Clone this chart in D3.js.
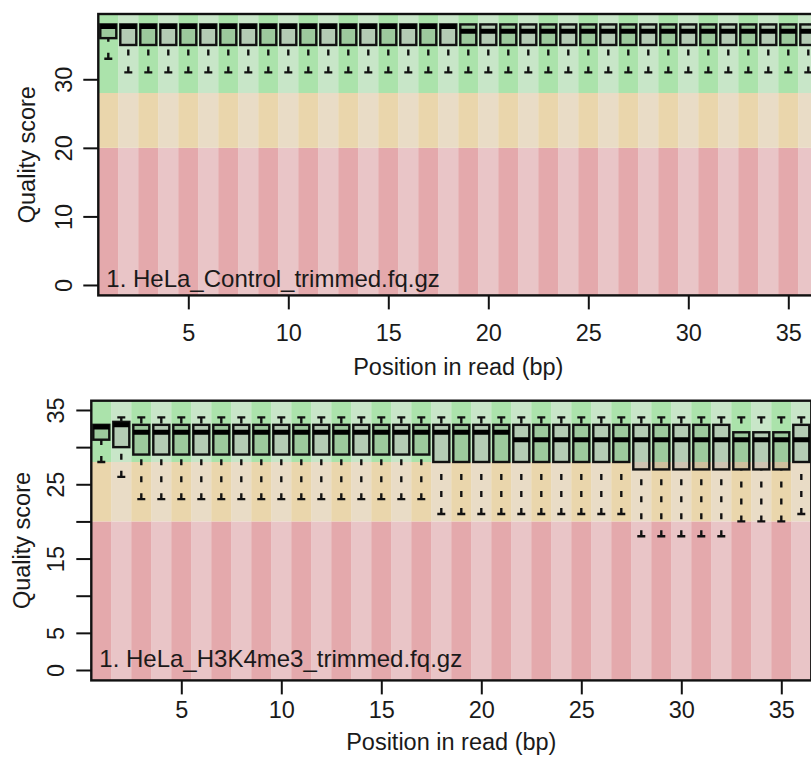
<!DOCTYPE html>
<html lang="en">
<head>
<meta charset="UTF-8">
<title>Quality score by position</title>
<script src="https://cdn.jsdelivr.net/npm/d3@7/dist/d3.min.js"></script>
<style>
    body{margin:0;background:#fff;}
    svg{display:block;font-family:"Liberation Sans",Arial,sans-serif;}
</style>
</head>
<body>
<svg width="811" height="765"></svg>
<script>
// read positions (bp)
var positions=[1,2,3,4,5,6,7,8,9,10,11,12,13,14,15,16,17,18,19,20,21,22,23,24,25,26,27,28,29,30,31,32,33,34,35,36];
var xTicks=[5,10,15,20,25,30,35];

// panel 1: HeLa_Control
var ctrlLabel="1. HeLa_Control_trimmed.fq.gz";
var ctrlYTicks=[0,10,20,30];
var ctrlLow =[33,31,31,31,31,31,31,31,31,31,31,31,31,31,31,31,31,31,31,31,31,31,31,31,31,31,31,31,31,31,31,31,31,31,31,31];
var ctrlQ1  =[36,35,35,35,35,35,35,35,35,35,35,35,35,35,35,35,35,35,35,35,35,35,35,35,35,35,35,35,35,35,35,35,35,35,35,35];
var ctrlMed =[37.7,37.7,37.7,37.7,37.7,37.7,37.7,37.7,37.7,37.7,37.7,37.7,37.7,37.7,37.7,37.7,37.7,37.7,37,37,37,37,37,37,37,37,37,37,37,37,37,37,37,37,37,37];
var ctrlQ3  =[38,38,38,38,38,38,38,38,38,38,38,38,38,38,38,38,38,38,38,38,38,38,38,38,38,38,38,38,38,38,38,38,38,38,38,38];
var ctrlHigh=[38,38,38,38,38,38,38,38,38,38,38,38,38,38,38,38,38,38,38,38,38,38,38,38,38,38,38,38,38,38,38,38,38,38,38,38];

// panel 2: HeLa_H3K4me3
var k4Label="1. HeLa_H3K4me3_trimmed.fq.gz";
var k4YTicks=[0,5,10,15,20,25,30,35];
var k4YLabels=[0,5,15,25,35];
var k4Low =[28,26,23,23,23,23,23,23,23,23,23,23,23,23,23,23,23,21,21,21,21,21,21,21,21,21,21,18,18,18,18,18,20,20,20,21];
var k4Q1  =[31,30,29,29,29,29,29,29,29,29,29,29,29,29,29,29,29,28,28,28,28,28,28,28,28,28,28,27,27,27,27,27,27,27,27,28];
var k4Med =[32.7,33,32,32,32,32,32,32,32,32,32,32,32,32,32,32,32,32,32,32,32,31,31,31,31,31,31,31,31,31,31,31,31,31,31,31];
var k4Q3  =[33,33.4,33,33,33,33,33,33,33,33,33,33,33,33,33,33,33,33,33,33,33,33,33,33,33,33,33,33,33,33,33,33,32,32,32,33];
var k4High=[33,34,34,34,34,34,34,34,34,34,34,34,34,34,34,34,34,34,34,34,34,34,34,34,34,34,34,34,34,34,34,34,34,34,34,34];

// quality zones: red < 20, orange 20-28, green >= 28
var zones=[
    {lo:-100,hi:20,cols:["#e4a9ac","#e9c5c7"]},
    {lo:20,hi:28,cols:["#ead6ac","#e9dcc6"]},
    {lo:28,hi:100,cols:["#abe3ab","#c8e6c8"]}
];

var svg=d3.select('svg');
var fontSize=23.5;
var lw=2.4;

function drawPanel(p){
    var x=d3.scaleLinear()
        .domain([0.5,positions.length+0.5])
        .range([p.left,p.left+positions.length*20]);
    var y=d3.scaleLinear()
        .domain(p.yDomain)
        .range([p.bottom,p.top]);

    var g=svg.append('g');
    var clipId='clip'+p.id;
    g.append('clipPath').attr('id',clipId)
        .append('rect')
        .attr('x',x.range()[0]).attr('y',p.top)
        .attr('width',x.range()[1]-x.range()[0]).attr('height',p.bottom-p.top);

    var plot=g.append('g').attr('clip-path','url(#'+clipId+')');

    // striped background
    zones.forEach(function(z){
        plot.selectAll(null)
            .data(positions)
            .enter().append('rect')
            .attr('x',d=>x(d-0.5))
            .attr('width',d=>x(d+0.5)-x(d-0.5)+0.3)
            .attr('y',y(Math.min(z.hi,p.yDomain[1])))
            .attr('height',y(Math.max(z.lo,p.yDomain[0]))-y(Math.min(z.hi,p.yDomain[1])))
            .attr('fill',d=>z.cols[(d+1)%2]);
    });

    var rows=positions.map(function(pos,i){
        return {pos:pos,low:p.low[i],q1:p.q1[i],med:p.med[i],q3:p.q3[i],high:p.high[i]};
    });
    var half=8,staple=4;

    var box=plot.selectAll('.box')
        .data(rows)
        .enter().append('g')
        .attr('class','box');

    // whiskers, drawn from the end toward the box like R does
    box.append('line')
        .attr('x1',d=>x(d.pos)).attr('x2',d=>x(d.pos))
        .attr('y1',d=>y(d.low)).attr('y2',d=>y(d.q1))
        .attr('stroke','#111').attr('stroke-width',lw)
        .attr('stroke-dasharray','6,11');
    box.append('line')
        .attr('x1',d=>x(d.pos)).attr('x2',d=>x(d.pos))
        .attr('y1',d=>y(d.high)).attr('y2',d=>y(d.q3))
        .attr('stroke','#111').attr('stroke-width',lw)
        .attr('stroke-dasharray','6,11');
    box.append('line')
        .attr('x1',d=>x(d.pos)-staple).attr('x2',d=>x(d.pos)+staple)
        .attr('y1',d=>y(d.low)).attr('y2',d=>y(d.low))
        .attr('stroke','#111').attr('stroke-width',lw);
    box.filter(d=>d.high>d.q3).append('line')
        .attr('x1',d=>x(d.pos)-staple).attr('x2',d=>x(d.pos)+staple)
        .attr('y1',d=>y(d.high)).attr('y2',d=>y(d.high))
        .attr('stroke','#111').attr('stroke-width',lw);
    box.append('rect')
        .attr('x',d=>x(d.pos)-half)
        .attr('width',half*2)
        .attr('y',d=>y(d.q3))
        .attr('height',d=>y(d.q1)-y(d.q3))
        .attr('fill','rgba(110,110,110,0.22)')
        .attr('stroke','#111').attr('stroke-width',lw);
    box.append('line')
        .attr('x1',d=>x(d.pos)-half).attr('x2',d=>x(d.pos)+half)
        .attr('y1',d=>y(d.med)).attr('y2',d=>y(d.med))
        .attr('stroke','#000').attr('stroke-width',5);

    // sample name
    plot.append('text')
        .attr('x',x.range()[0]+8)
        .attr('y',p.labelY)
        .attr('font-size',24)
        .attr('fill','#1a1a1a')
        .text(p.label);

    // frame
    g.append('rect')
        .attr('x',x.range()[0]).attr('y',p.top)
        .attr('width',x.range()[1]-x.range()[0]).attr('height',p.bottom-p.top)
        .attr('fill','none').attr('stroke','#111').attr('stroke-width',lw);

    // axes
    var yAxis=g.append('g')
        .attr('transform','translate('+x.range()[0]+',0)')
        .call(d3.axisLeft(y).tickValues(p.yTicks).tickSizeOuter(0).tickSize(15)
            .tickFormat(d=>p.yLabels.indexOf(d)>=0?d:''));
    yAxis.select('.domain').remove();
    yAxis.selectAll('.tick line').attr('stroke','#111').attr('stroke-width',2);
    yAxis.selectAll('.tick text')
        .attr('x',0).attr('dy','0.35em')
        .attr('text-anchor','middle')
        .attr('transform','translate('+p.yLabelOff+',0) rotate(-90)')
        .attr('font-size',fontSize).attr('fill','#1a1a1a');

    var xAxis=g.append('g')
        .attr('transform','translate(0,'+p.bottom+')')
        .call(d3.axisBottom(x).tickValues(xTicks).tickSizeOuter(0).tickSize(14).tickPadding(p.xPad));
    xAxis.select('.domain').remove();
    xAxis.selectAll('.tick line').attr('stroke','#111').attr('stroke-width',2);
    xAxis.selectAll('.tick text').attr('font-size',fontSize).attr('fill','#1a1a1a');

    // axis titles
    g.append('text')
        .attr('transform','translate('+p.yTitleX+','+((p.top+p.bottom)/2)+') rotate(-90)')
        .attr('text-anchor','middle').attr('dy','0.35em')
        .attr('font-size',fontSize).attr('fill','#1a1a1a')
        .text('Quality score');
    g.append('text')
        .attr('x',(x.range()[0]+x.range()[1])/2)
        .attr('y',p.xTitleY)
        .attr('text-anchor','middle').attr('dy','0.35em')
        .attr('font-size',fontSize).attr('fill','#1a1a1a')
        .text('Position in read (bp)');
}

drawPanel({id:1,left:98.3,top:14,bottom:295.4,yDomain:[-1.52,39.52],
    low:ctrlLow,q1:ctrlQ1,med:ctrlMed,q3:ctrlQ3,high:ctrlHigh,
    yTicks:ctrlYTicks,yLabels:ctrlYTicks,label:ctrlLabel,labelY:287,
    yLabelOff:-35,yTitleX:27,xPad:15,xTitleY:367});

drawPanel({id:2,left:91.3,top:400.7,bottom:680.4,yDomain:[-1.4,36.25],
    low:k4Low,q1:k4Q1,med:k4Med,q3:k4Q3,high:k4High,
    yTicks:k4YTicks,yLabels:k4YLabels,label:k4Label,labelY:667,
    yLabelOff:-36,yTitleX:22,xPad:7,xTitleY:742});
</script>
</body>
</html>
